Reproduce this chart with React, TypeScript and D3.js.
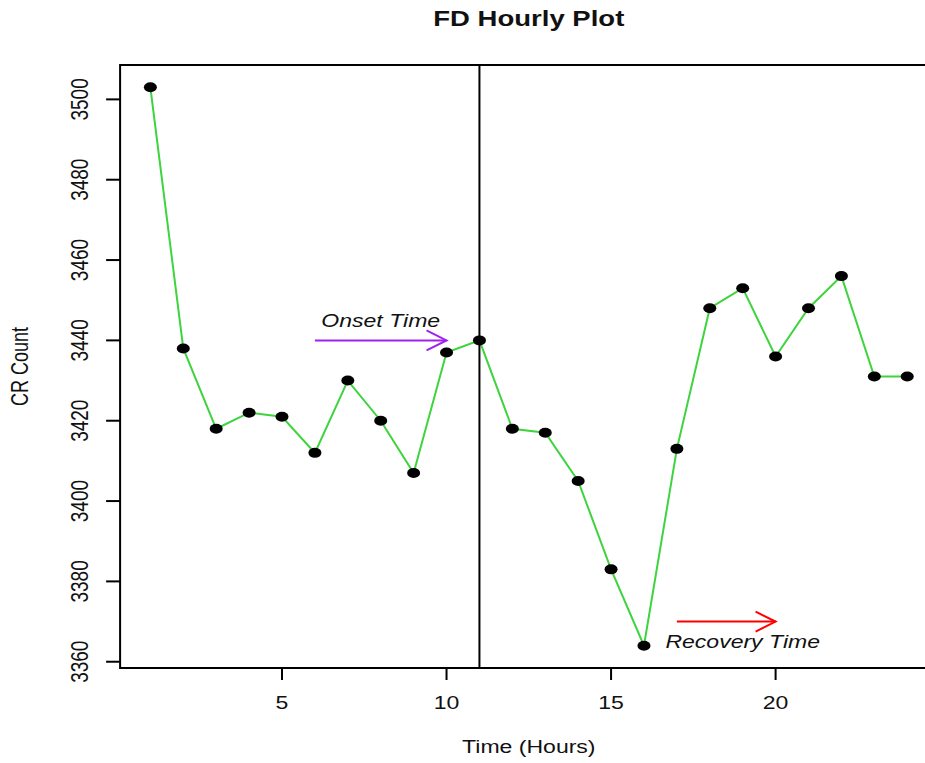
import React from 'react';
import * as d3 from 'd3';

// hourly cosmic ray counts
const hours = [1, 2, 3, 4, 5, 6, 7, 8, 9, 10, 11, 12, 13, 14, 15, 16, 17, 18, 19, 20, 21, 22, 23, 24];
const counts = [3503, 3438, 3418, 3422, 3421, 3412, 3430, 3420, 3407, 3437, 3440, 3418, 3417, 3405, 3383, 3364, 3413, 3448, 3453, 3436, 3448, 3456, 3431, 3431];
const xTicks = [5, 10, 15, 20];
const yTicks = [3360, 3380, 3400, 3420, 3440, 3460, 3480, 3500];
const onsetHour = 11;
// annotations: [x0, x1, y] arrows and label positions in data units
const onsetArrow = [6, 10, 3440];
const recoveryArrow = [17, 20, 3370];
const onsetLabel = [8, 3445];
const recoveryLabel = [19, 3365];

const W = 925;
const H = 763;
const SX = 1.28; // the picture is stretched sideways
const font = '"Liberation Sans", Arial, Helvetica, sans-serif';

const App = () => {
  // R style 4% padding around the data range
  const xExt = d3.extent(hours) as [number, number];
  const yExt = d3.extent(counts) as [number, number];
  const xPad = (xExt[1] - xExt[0]) * 0.04;
  const yPad = (yExt[1] - yExt[0]) * 0.04;
  const x = d3.scaleLinear().domain([xExt[0] - xPad, xExt[1] + xPad]).range([120.1, 937.5]);
  const y = d3.scaleLinear().domain([yExt[0] - yPad, yExt[1] + yPad]).range([668, 65]);

  const [x0, x1] = x.range();
  const [y0, y1] = y.range();

  const line = d3
    .line<number>()
    .x((d, i) => x(hours[i]))
    .y((d) => y(d));

  const label = (tx: number, ty: number, rot = 0) =>
    `translate(${tx},${ty}) scale(${SX},1)` + (rot ? ` rotate(${rot})` : '');

  const arrow = (a: number[], color: string) => {
    const ax0 = x(a[0]);
    const ax1 = x(a[1]);
    const ay = y(a[2]);
    return (
      <g stroke={color} strokeWidth={2} fill="none">
        <line x1={ax0} x2={ax1} y1={ay} y2={ay} />
        <polyline points={`${ax1 - 20},${ay - 10} ${ax1},${ay} ${ax1 - 20},${ay + 10}`} />
      </g>
    );
  };

  return (
    <svg width={W} height={H} style={{ position: 'absolute', left: 0, top: 0, background: '#fff' }}>
      <text transform={label((x0 + x1) / 2, 26)} textAnchor="middle" fontFamily={font} fontWeight="bold" fontSize={21.5} fill="#111">
        FD Hourly Plot
      </text>

      {/* data */}
      <path d={line(counts) || ''} fill="none" stroke="#3ed43e" strokeWidth={2} />
      {counts.map((c, i) => (
        <ellipse key={i} cx={x(hours[i])} cy={y(c)} rx={6.5} ry={5} fill="#000" />
      ))}

      <line x1={x(onsetHour)} x2={x(onsetHour)} y1={y0} y2={y1} stroke="#000" strokeWidth={2} />

      {arrow(onsetArrow, '#A020F0')}
      {arrow(recoveryArrow, '#FF0000')}
      <text transform={label(x(onsetLabel[0]), y(onsetLabel[1]))} dy="0.35em" textAnchor="middle" fontFamily={font} fontStyle="italic" fontSize={18} fill="#111">
        Onset Time
      </text>
      <text transform={label(x(recoveryLabel[0]), y(recoveryLabel[1]))} dy="0.35em" textAnchor="middle" fontFamily={font} fontStyle="italic" fontSize={18} fill="#111">
        Recovery Time
      </text>

      {/* frame */}
      <rect x={x0} y={y1} width={x1 - x0} height={y0 - y1} fill="none" stroke="#000" strokeWidth={2} />

      {/* x axis */}
      {xTicks.map((t) => (
        <g key={t}>
          <line x1={x(t)} x2={x(t)} y1={y0} y2={y0 + 12} stroke="#000" strokeWidth={2} />
          <text transform={label(x(t), 709)} textAnchor="middle" fontFamily={font} fontSize={18} fill="#111">
            {t}
          </text>
        </g>
      ))}
      <text transform={label((x0 + x1) / 2, 753)} textAnchor="middle" fontFamily={font} fontSize={18} fill="#111">
        Time (Hours)
      </text>

      {/* y axis */}
      {yTicks.map((t) => (
        <g key={t}>
          <line x1={x0 - 14} x2={x0} y1={y(t)} y2={y(t)} stroke="#000" strokeWidth={2} />
          <text transform={label(88, y(t), -90)} textAnchor="middle" fontFamily={font} fontSize={19} fill="#111">
            {t}
          </text>
        </g>
      ))}
      <text transform={label(28, (y0 + y1) / 2, -90)} textAnchor="middle" fontFamily={font} fontSize={18} fill="#111">
        CR Count
      </text>
    </svg>
  );
};

export default App;
